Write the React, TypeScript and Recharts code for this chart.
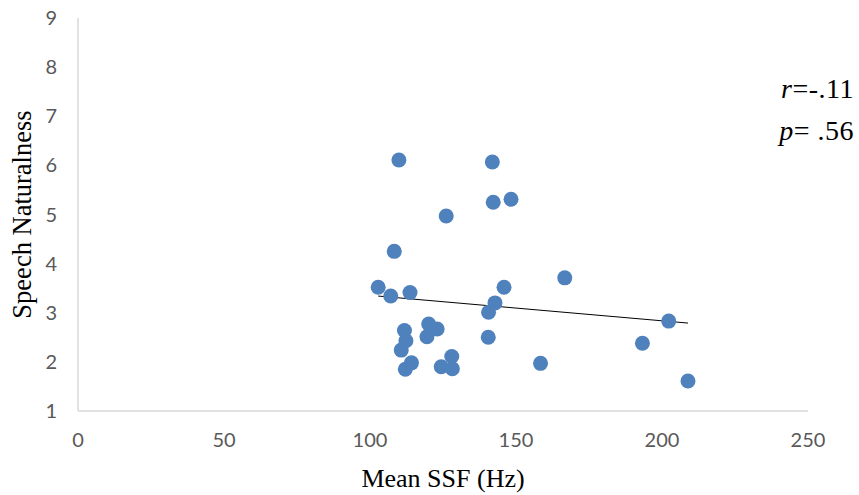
import React from "react";
import {
  ScatterChart,
  Scatter,
  XAxis,
  YAxis,
  ReferenceLine,
  Label,
} from "recharts";

// Mean SSF (Hz) vs. speech naturalness rating, one point per speaker
const ssf = [
  109.9, 141.9, 142.2, 148.3, 126.1, 108.3, 102.8, 107.1, 113.7, 145.9,
  142.8, 140.6, 140.5, 111.8, 112.3, 110.7, 120.1, 123.0, 119.5, 128.0,
  114.2, 112.1, 124.4, 128.2, 158.4, 166.7, 202.3, 193.3, 208.9,
];
const naturalness = [
  6.11, 6.07, 5.25, 5.31, 4.97, 4.25, 3.52, 3.34, 3.41, 3.52,
  3.2, 3.01, 2.5, 2.64, 2.43, 2.24, 2.77, 2.67, 2.51, 2.11,
  1.98, 1.85, 1.9, 1.86, 1.97, 3.71, 2.83, 2.38, 1.61,
];
const trendX = [102.8, 208.9];
const trendY = [3.34, 2.79];
const xTicks = [0, 50, 100, 150, 200, 250];
const yTicks = [1, 2, 3, 4, 5, 6, 7, 8, 9];

const points = ssf.map((x, i) => ({ x, y: naturalness[i] }));

const tickStyle = { fill: "#595959", fontSize: 20, fontFamily: "Lato" };
const serif = "'Liberation Serif', 'Times New Roman', serif";

const Dot = (props: any) => (
  <circle cx={props.cx} cy={props.cy} r={7.5} fill="#4f81bd" />
);

export default function App() {
  return (
    <div style={{ position: "absolute", left: 0, top: 0, width: 859, height: 495, background: "#fff" }}>
      <ScatterChart width={859} height={495} margin={{ top: 18, right: 51, bottom: 0, left: 0 }}>
        <XAxis
          type="number"
          dataKey="x"
          domain={[0, 250]}
          ticks={xTicks}
          height={84}
          tick={tickStyle}
          tickLine={false}
          tickSize={0}
          tickMargin={22}
          axisLine={{ stroke: "#d9d9d9", strokeWidth: 1.5 }}
        >
          <Label
            content={({ viewBox }: any) => (
              <text
                x={viewBox.x + viewBox.width / 2}
                y={viewBox.y + viewBox.height - 8}
                textAnchor="middle"
                fontFamily={serif}
                fontSize={26}
                fill="#000"
              >
                Mean SSF (Hz)
              </text>
            )}
          />
        </XAxis>
        <YAxis
          type="number"
          dataKey="y"
          domain={[1, 9]}
          ticks={yTicks}
          width={78}
          tick={tickStyle}
          tickLine={false}
          tickSize={0}
          tickMargin={21}
          axisLine={{ stroke: "#d9d9d9", strokeWidth: 1.5 }}
        >
          <Label
            content={({ viewBox }: any) => {
              const cx = 22;
              const cy = viewBox.y + viewBox.height / 2;
              return (
                <text
                  x={cx}
                  y={cy}
                  transform={`rotate(-90 ${cx} ${cy})`}
                  textAnchor="middle"
                  dominantBaseline="central"
                  fontFamily={serif}
                  fontSize={26.5}
                  fill="#000"
                >
                  Speech Naturalness
                </text>
              );
            }}
          />
        </YAxis>
        <ReferenceLine
          segment={[
            { x: trendX[0], y: trendY[0] },
            { x: trendX[1], y: trendY[1] },
          ]}
          stroke="#000"
          strokeWidth={1}
          ifOverflow="visible"
        />
        <Scatter data={points} shape={Dot} isAnimationActive={false} />
      </ScatterChart>
      <div
        style={{
          position: "absolute",
          right: 5,
          top: 68,
          fontFamily: serif,
          fontSize: 28,
          lineHeight: "42px",
          textAlign: "right",
          color: "#000",
          letterSpacing: 0.5,
        }}
      >
        <div>
          <i>r</i>=-.11
        </div>
        <div>
          <i>p</i>= .56
        </div>
      </div>
    </div>
  );
}
